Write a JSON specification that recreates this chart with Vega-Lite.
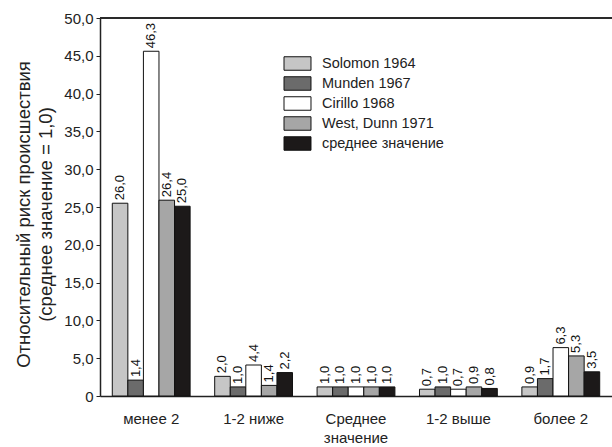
{
  "$schema": "https://vega.github.io/schema/vega-lite/v6.json",
  "autosize": "none",
  "padding": {"left": 100, "top": 18, "right": 0, "bottom": 51},
  "width": 512,
  "height": 378,
  "background": "white",
  "config": {
    "font": "Liberation Sans",
    "view": {"stroke": null}
  },
  "data": {
    "values": [
      {"group": "менее 2", "series": "Solomon 1964", "value": 25.5, "label": "26,0"},
      {"group": "менее 2", "series": "Munden 1967", "value": 2.1, "label": "1,4"},
      {"group": "менее 2", "series": "Cirillo 1968", "value": 45.6, "label": "46,3"},
      {"group": "менее 2", "series": "West, Dunn 1971", "value": 25.9, "label": "26,4"},
      {"group": "менее 2", "series": "среднее значение", "value": 25.1, "label": "25,0"},
      {"group": "1-2 ниже", "series": "Solomon 1964", "value": 2.6, "label": "2,0"},
      {"group": "1-2 ниже", "series": "Munden 1967", "value": 1.2, "label": "1,0"},
      {"group": "1-2 ниже", "series": "Cirillo 1968", "value": 4.1, "label": "4,4"},
      {"group": "1-2 ниже", "series": "West, Dunn 1971", "value": 1.4, "label": "1,4"},
      {"group": "1-2 ниже", "series": "среднее значение", "value": 3.1, "label": "2,2"},
      {"group": "Среднее|значение", "series": "Solomon 1964", "value": 1.2, "label": "1,0"},
      {"group": "Среднее|значение", "series": "Munden 1967", "value": 1.2, "label": "1,0"},
      {"group": "Среднее|значение", "series": "Cirillo 1968", "value": 1.2, "label": "1,0"},
      {"group": "Среднее|значение", "series": "West, Dunn 1971", "value": 1.2, "label": "1,0"},
      {"group": "Среднее|значение", "series": "среднее значение", "value": 1.2, "label": "1,0"},
      {"group": "1-2 выше", "series": "Solomon 1964", "value": 0.9, "label": "0,7"},
      {"group": "1-2 выше", "series": "Munden 1967", "value": 1.2, "label": "1,0"},
      {"group": "1-2 выше", "series": "Cirillo 1968", "value": 0.9, "label": "0,7"},
      {"group": "1-2 выше", "series": "West, Dunn 1971", "value": 1.2, "label": "0,9"},
      {"group": "1-2 выше", "series": "среднее значение", "value": 1.0, "label": "0,8"},
      {"group": "более 2", "series": "Solomon 1964", "value": 1.2, "label": "0,9"},
      {"group": "более 2", "series": "Munden 1967", "value": 2.3, "label": "1,7"},
      {"group": "более 2", "series": "Cirillo 1968", "value": 6.4, "label": "6,3"},
      {"group": "более 2", "series": "West, Dunn 1971", "value": 5.3, "label": "5,3"},
      {"group": "более 2", "series": "среднее значение", "value": 3.2, "label": "3,5"}
    ]
  },
  "encoding": {
    "y": {
      "field": "value",
      "type": "quantitative",
      "scale": {"domain": [0, 50], "nice": false},
      "axis": {
        "values": [0, 5, 10, 15, 20, 25, 30, 35, 40, 45, 50],
        "labelExpr": "datum.value == 0 ? '0' : replace(format(datum.value, '.1f'), '.', ',')",
        "grid": false,
        "tickSize": 4,
        "tickColor": "#222",
        "domainColor": "#222",
        "domainWidth": 1.5,
        "labelFontSize": 15,
        "labelColor": "#222",
        "labelPadding": 3,
        "title": ["Относительный риск происшествия", "(среднее значение = 1,0)"],
        "titleFontSize": 18.5,
        "titleFontWeight": "normal",
        "titleColor": "#222",
        "titleLineHeight": 22,
        "titlePadding": 8,
        "titleY": 196
      }
    }
  },
  "layer": [
    {
      "mark": {"type": "bar", "stroke": "#111", "strokeWidth": 1},
      "encoding": {
        "x": {
          "field": "group",
          "type": "nominal",
          "sort": null,
          "scale": {"paddingInner": 0.24, "paddingOuter": 0.12},
          "axis": {
            "title": null,
            "labelAngle": 0,
            "ticks": false,
            "labelPadding": 15,
            "labelFontSize": 15,
            "labelColor": "#222",
            "labelLineHeight": 19,
            "labelExpr": "split(datum.label, '|')",
            "domainColor": "#222",
            "domainWidth": 1.5
          }
        },
        "xOffset": {
          "field": "series",
          "type": "nominal",
          "sort": ["Solomon 1964", "Munden 1967", "Cirillo 1968", "West, Dunn 1971", "среднее значение"],
          "scale": {"paddingInner": 0, "paddingOuter": 0}
        },
        "color": {
          "field": "series",
          "type": "nominal",
          "scale": {
            "domain": ["Solomon 1964", "Munden 1967", "Cirillo 1968", "West, Dunn 1971", "среднее значение"],
            "range": ["#c6c6c6", "#6b6b6b", "#ffffff", "#a6a6a6", "#1c1919"]
          },
          "legend": {
            "title": null,
            "orient": "none",
            "legendX": 190,
            "legendY": 38,
            "symbolType": "M-2,-1H2V1H-2Z",
            "symbolSize": 182,
            "symbolStrokeColor": "#111",
            "symbolStrokeWidth": 1,
            "symbolOpacity": 1,
            "labelFontSize": 14.5,
            "labelColor": "#222",
            "labelOffset": 17,
            "rowPadding": 1,
            "padding": 0
          }
        }
      }
    },
    {
      "mark": {"type": "text", "angle": 270, "align": "left", "baseline": "middle", "dx": 3, "fontSize": 13, "color": "#111"},
      "encoding": {
        "x": {"field": "group", "type": "nominal", "sort": null},
        "xOffset": {
          "field": "series",
          "type": "nominal",
          "sort": ["Solomon 1964", "Munden 1967", "Cirillo 1968", "West, Dunn 1971", "среднее значение"]
        },
        "text": {"field": "label"}
      }
    },
    {
      "mark": {"type": "rule", "color": "#2a2a2a", "strokeWidth": 2},
      "encoding": {"y": {"datum": 50}}
    }
  ]
}
